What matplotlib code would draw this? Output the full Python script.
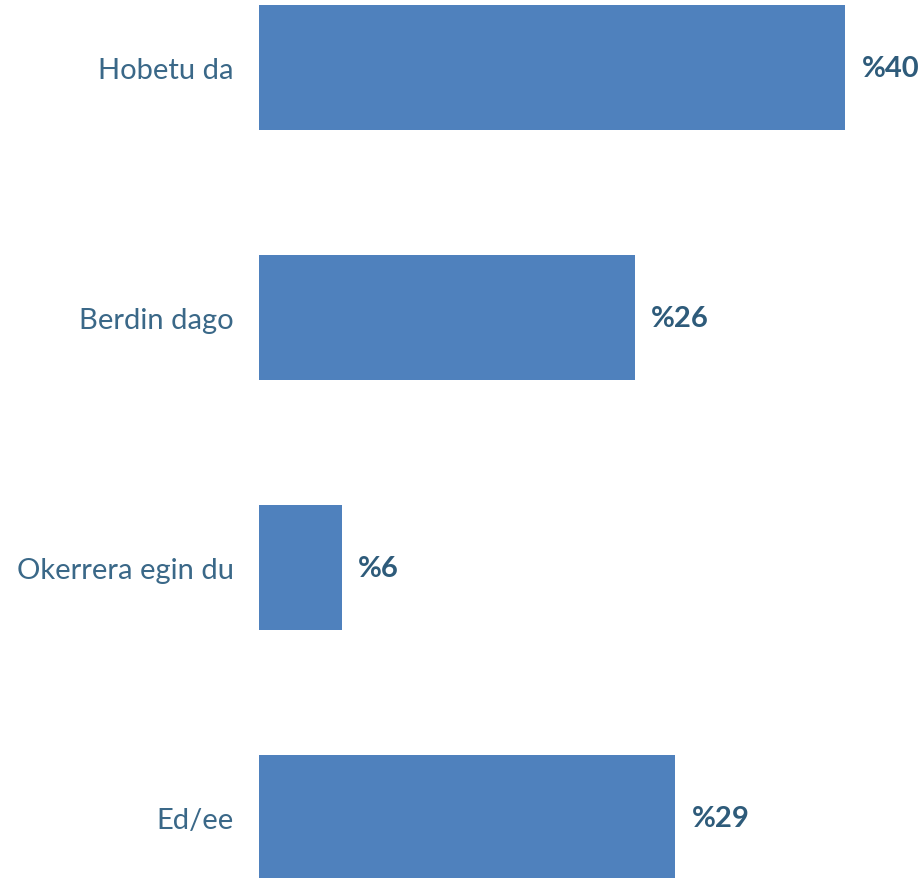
import matplotlib.pyplot as plt

categories = ["Hobetu da", "Berdin dago", "Okerrera egin du", "Ed/ee"]
values = [40.4, 25.9, 5.7, 28.7]
labels = ["%40", "%26", "%6", "%29"]

bar_color = "#4F81BD"
text_color = "#3A6888"
value_color = "#2E5B7A"

fig = plt.figure(figsize=(9.24, 8.79), dpi=100)
ax = fig.add_axes([259 / 924, 0, 665 / 924, 1])

ypos = list(range(len(categories)))
ax.barh(ypos, values, height=0.5, color=bar_color)

for y, v, lab in zip(ypos, values, labels):
    ax.text(v + 1.15, y, lab, va="center", ha="left", fontsize=21,
            fontweight="bold", color=value_color, family="Lato")

ax.set_yticks(ypos)
ax.set_yticklabels(categories, fontsize=21, color=text_color, family="Lato")
ax.tick_params(axis="y", length=0, pad=18)
ax.set_xticks([])
ax.set_xlim(0, 45.86)
ax.set_ylim(3.24, -0.275)
for s in ax.spines.values():
    s.set_visible(False)

fig.savefig("out.png", dpi=100)
